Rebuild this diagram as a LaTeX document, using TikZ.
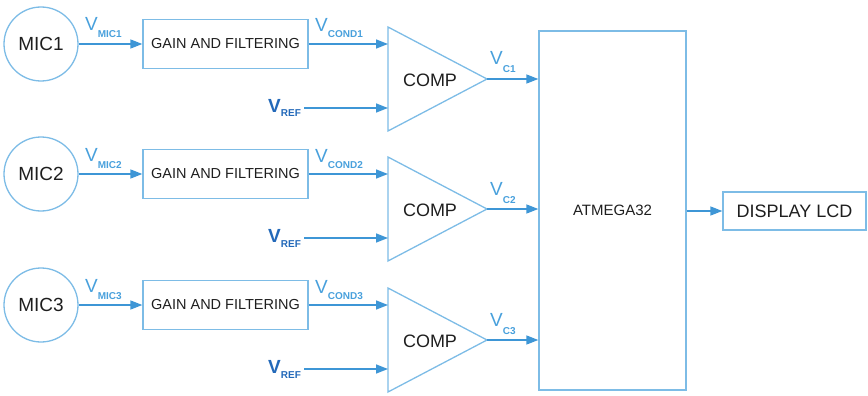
\documentclass[tikz,border=0pt]{standalone}
\usepackage{fontspec}
\setmainfont{Liberation Sans}
\usetikzlibrary{arrows.meta}
\definecolor{shapeblue}{RGB}{125,188,230}
\definecolor{lineblue}{RGB}{62,150,214}
\definecolor{labelblue}{RGB}{72,160,220}
\definecolor{refblue}{RGB}{35,105,185}
\definecolor{ink}{RGB}{30,30,30}
% lowered bold subscript: #1 = drop, #2 = text
\newcommand\lblsub[2]{\raisebox{-#1}{\fontsize{10}{10}\selectfont\bfseries #2}}
\begin{document}
\begin{tikzpicture}[x=1pt,y=-1pt,
  mic/.style={circle,draw=shapeblue,line width=1.3pt,minimum size=74pt,inner sep=0pt,
    font=\fontsize{19}{19}\selectfont,text=ink},
  blk/.style={rectangle,draw=shapeblue,line width=1.3pt,inner sep=0pt,text=ink},
  tri/.style={draw=shapeblue,line width=1.3pt,line join=miter},
  arr/.style={draw=lineblue,line width=1.4pt,-{Triangle[length=12pt,width=9pt]}},
  sig/.style={text=labelblue,font=\fontsize{19}{19}\selectfont,inner sep=0pt,anchor=base west},
  refl/.style={text=refblue,font=\fontsize{19}{19}\selectfont\bfseries,inner sep=0pt,anchor=base west},
  txt/.style={text=ink,inner sep=0pt}]
\useasboundingbox (0,0) rectangle (868,396);

% microcontroller and display
\node[blk,minimum width=147pt,minimum height=359pt,font=\fontsize{15}{15}\selectfont]
  (atm) at (612.5,210.5) {ATMEGA32};
\node[blk,minimum width=143pt,minimum height=38pt,font=\fontsize{18}{18}\selectfont]
  (lcd) at (794.5,211) {DISPLAY LCD};
\draw[arr] (atm.east |- lcd.west) -- (lcd.west);

% one microphone channel per row
\foreach \i/\y in {1/44,2/174,3/305}{
  \node[mic] (mic\i) at (41,\y) {MIC\i};
  \node[blk,minimum width=165pt,minimum height=49pt,font=\fontsize{14.5}{14.5}\selectfont]
    (gain\i) at (225.5,\y) {GAIN AND FILTERING};
  \draw[arr] (mic\i.east) -- (gain\i.west);
  \node[sig] (vmic\i) at (85,\y-13) {V\lblsub{7pt}{MIC\i}};

  % comparator
  \draw[tri] (388,\y-17) -- (487,\y+35) -- (388,\y+87) -- cycle;
  \coordinate (cin\i) at (388,\y);
  \coordinate (cref\i) at (388,\y+64);
  \coordinate (cout\i) at (487,\y+35);
  \node[txt,font=\fontsize{18}{18}\selectfont] (comp\i) at (430,\y+36) {COMP};

  \draw[arr] (gain\i.east) -- (cin\i);
  \node[sig] (vcond\i) at (315,\y-12) {V\lblsub{6pt}{COND\i}};

  \node[refl] (vref\i) at (268,\y+68) {V\lblsub{5pt}{REF}};
  \draw[arr] ([xshift=3pt]vref\i.east |- cref\i) -- (cref\i);

  \draw[arr] (cout\i) -- (cout\i -| atm.west);
  \node[sig] (vc\i) at (490,\y+21) {V\lblsub{8pt}{C\i}};
}
\end{tikzpicture}
\end{document}
